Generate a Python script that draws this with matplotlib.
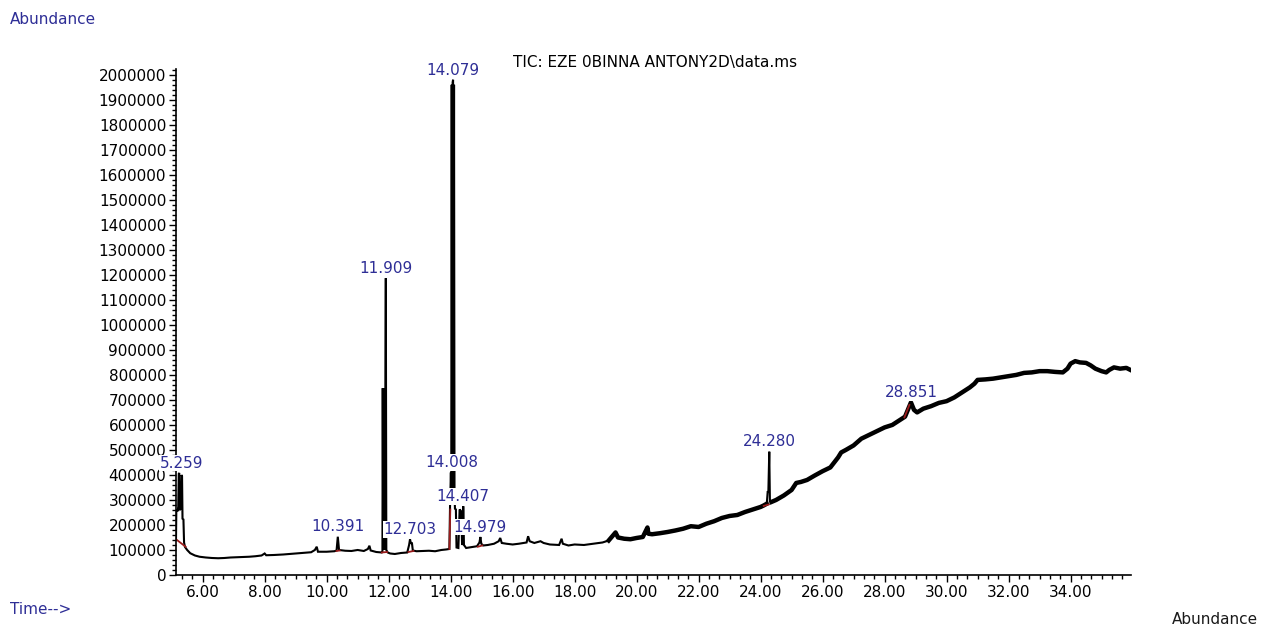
import matplotlib
matplotlib.use("Agg")
import matplotlib.pyplot as plt
from matplotlib.ticker import MultipleLocator, FuncFormatter
import numpy as np

# Total ion chromatogram: retention time (min) and abundance (thousands of counts)
time_min = [
    5.14, 5.15, 5.19, 5.21, 5.23, 5.245, 5.26, 5.30, 5.32, 5.335, 5.35, 5.38, 5.40, 5.43,
    5.50, 5.60, 5.75, 5.90, 6.10, 6.30, 6.50, 6.70, 6.90, 7.10, 7.30, 7.50, 7.70, 7.90,
    8.00, 8.05, 8.30, 8.60, 8.90, 9.20, 9.50, 9.62, 9.68, 9.72, 10.00, 10.25, 10.32,
    10.36, 10.40, 10.60, 10.80, 11.00, 11.20, 11.33, 11.38, 11.42, 11.60, 11.78, 11.80,
    11.81, 11.825, 11.84, 11.855, 11.87, 11.885, 11.895, 11.909, 11.925, 11.97, 12.05,
    12.20, 12.40, 12.60, 12.66, 12.69, 12.72, 12.75, 12.78, 12.90, 13.10, 13.30, 13.50,
    13.70, 13.85, 13.96, 13.98, 14.008, 14.02, 14.035, 14.05, 14.065, 14.079, 14.095,
    14.11, 14.125, 14.14, 14.17, 14.19, 14.25, 14.29, 14.34, 14.37, 14.39, 14.407,
    14.43, 14.50, 14.60, 14.70, 14.85, 14.93, 14.96, 14.99, 15.05, 15.20, 15.40, 15.55,
    15.60, 15.65, 15.80, 16.00, 16.20, 16.45, 16.50, 16.55, 16.70, 16.90, 17.00, 17.20,
    17.50, 17.58, 17.62, 17.80, 18.00, 18.30, 18.60, 18.90, 19.10, 19.25, 19.32, 19.40,
    19.60, 19.80, 20.00, 20.20, 20.35, 20.38, 20.50, 20.75, 21.00, 21.25, 21.50, 21.75,
    22.00, 22.25, 22.50, 22.75, 23.00, 23.25, 23.50, 23.75, 24.00, 24.10, 24.20, 24.23,
    24.25, 24.28, 24.30, 24.35, 24.50, 24.75, 25.00, 25.15, 25.30, 25.50, 25.75, 26.00,
    26.25, 26.50, 26.60, 26.75, 27.00, 27.25, 27.50, 27.75, 28.00, 28.25, 28.50, 28.66,
    28.75, 28.851, 28.95, 29.05, 29.25, 29.50, 29.75, 30.00, 30.25, 30.50, 30.75, 30.90,
    31.00, 31.25, 31.50, 31.75, 32.00, 32.25, 32.50, 32.75, 33.00, 33.25, 33.50, 33.75,
    33.90, 34.00, 34.15, 34.30, 34.50, 34.65, 34.80, 35.00, 35.15, 35.25, 35.40, 35.60,
    35.80, 35.93,
]
abundance_k = [
    143, 257, 262, 255, 405, 408, 260, 265, 400, 395, 225, 222, 130, 112,
    100, 87, 78, 73, 70, 68, 67, 68, 70, 71, 72, 73, 75, 78,
    86, 79, 80, 82, 85, 88, 91, 100, 113, 93, 93, 95, 98,
    153, 100, 97, 96, 100, 96, 104, 117, 98, 92, 90, 92,
    747, 100, 745, 100, 740, 100, 740, 1187, 100, 90, 86,
    84, 88, 90, 120, 143, 125, 130, 98, 95, 96, 97, 95,
    100, 102, 104, 268, 410, 330, 1960, 330, 1970, 1980, 330,
    1960, 320, 265, 262, 110, 108, 262, 255, 120, 130, 275,
    120, 108, 110, 112, 115, 130, 152, 125, 118, 120, 125, 135,
    148, 128, 125, 122, 125, 130, 155, 135, 128, 135, 128, 122,
    120, 145, 125, 118, 122, 120, 125, 130, 138, 160, 170, 150,
    145, 143, 148, 152, 190, 165, 163, 167, 172, 178, 185, 195,
    192, 205, 215, 228, 236, 240, 252, 262, 272, 278, 285, 335,
    330, 493, 300, 292, 300, 318, 340, 368, 372, 380, 398, 415,
    430, 470, 490, 500, 518, 545, 560, 575, 590, 600, 620, 633,
    660, 690, 660, 650, 665, 675, 688, 695, 710, 730, 750, 765,
    780, 782, 785, 790, 795, 800, 808, 810, 815, 815, 812, 810,
    825, 845, 855, 850, 848, 838, 825, 815, 810, 820, 830, 825,
    828, 820,
]

# Labelled peaks: retention time and apex abundance (thousands)
peak_times = ["5.259", "10.391", "11.909", "12.703", "14.008", "14.079",
              "14.407", "14.979", "24.280", "28.851"]
peak_apex_k = [408, 153, 1187, 143, 410, 1980, 275, 152, 493, 690]
peak_label_x = [5.33, 10.36, 11.909, 12.69, 14.05, 14.079, 14.40, 14.96, 24.28, 28.85]

# Integration baselines (start time, start k, end time, end k)
base_t0 = [5.14, 10.32, 11.78, 12.64, 13.96, 14.88, 24.10, 28.64]
base_y0 = [143, 96, 90, 92, 104, 113, 276, 630]
base_t1 = [5.45, 10.42, 11.95, 12.80, 13.99, 15.02, 24.26, 28.80]
base_y1 = [113, 98, 92, 96, 262, 118, 282, 680]

FONT = "DejaVu Sans"
BLUE = "#2e2e96"
FS = 11
plt.rcParams["font.family"] = [FONT]

t = np.array(time_min)
y = np.array(abundance_k) * 1000.0

fig = plt.figure(figsize=(12.62, 6.25), dpi=100)
ax = fig.add_axes([176 / 1262, 50 / 625, (1131 - 176) / 1262, (575 - 69) / 625])

ax.plot(t, y, color="black", lw=1.5, solid_joinstyle="miter")
# the noisier late part of the run is drawn heavier, except the sharp 24.28 spike
y_late = np.where((t >= 19.0) & ~((t > 24.21) & (t < 24.33)), y, np.nan)
ax.plot(t, y_late, color="black", lw=3.2)

for a, b, c, d in zip(base_t0, base_y0, base_t1, base_y1):
    ax.plot([a, c], [b * 1000, d * 1000], color="#9a1c1c", lw=1.3)

# peak labels are printed on an opaque background above each apex
for lab, apex, lx in zip(peak_times, peak_apex_k, peak_label_x):
    ax.text(lx, apex * 1000 + 9000, lab, color=BLUE, fontsize=FS,
            ha="center", va="bottom", zorder=5, clip_on=False,
            bbox=dict(facecolor="white", edgecolor="none", pad=0.5))

ax.set_xlim(5.14, 35.95)
ax.set_ylim(0, 2023000)

for s in ("top", "right"):
    ax.spines[s].set_visible(False)
for s in ("left", "bottom"):
    ax.spines[s].set_linewidth(1.2)
    ax.spines[s].set_zorder(2)

ax.xaxis.set_major_locator(MultipleLocator(2))
ax.xaxis.set_minor_locator(MultipleLocator(1 / 3))
ax.yaxis.set_major_locator(MultipleLocator(100000))
ax.yaxis.set_minor_locator(MultipleLocator(20000))
ax.xaxis.set_major_formatter(FuncFormatter(lambda v, p: f"{v:.2f}"))
ax.yaxis.set_major_formatter(FuncFormatter(lambda v, p: f"{int(round(v))}"))
ax.tick_params(which="major", length=5, width=1, labelsize=FS, pad=2)
ax.tick_params(which="minor", length=3, width=1)

fig.text(655 / 1262, 1 - 62 / 625, "TIC: EZE 0BINNA ANTONY2D\\data.ms",
         ha="center", va="center", fontsize=FS, color="black")
fig.text(10 / 1262, 1 - 19 / 625, "Abundance", ha="left", va="center",
         fontsize=FS, color=BLUE)
fig.text(10 / 1262, 1 - 609 / 625, "Time-->", ha="left", va="center",
         fontsize=FS, color=BLUE)
fig.text(1258 / 1262, 1 - 619 / 625, "Abundance", ha="right", va="center",
         fontsize=FS, color="#1a1a1a")

fig.savefig("out.png", dpi=100)
